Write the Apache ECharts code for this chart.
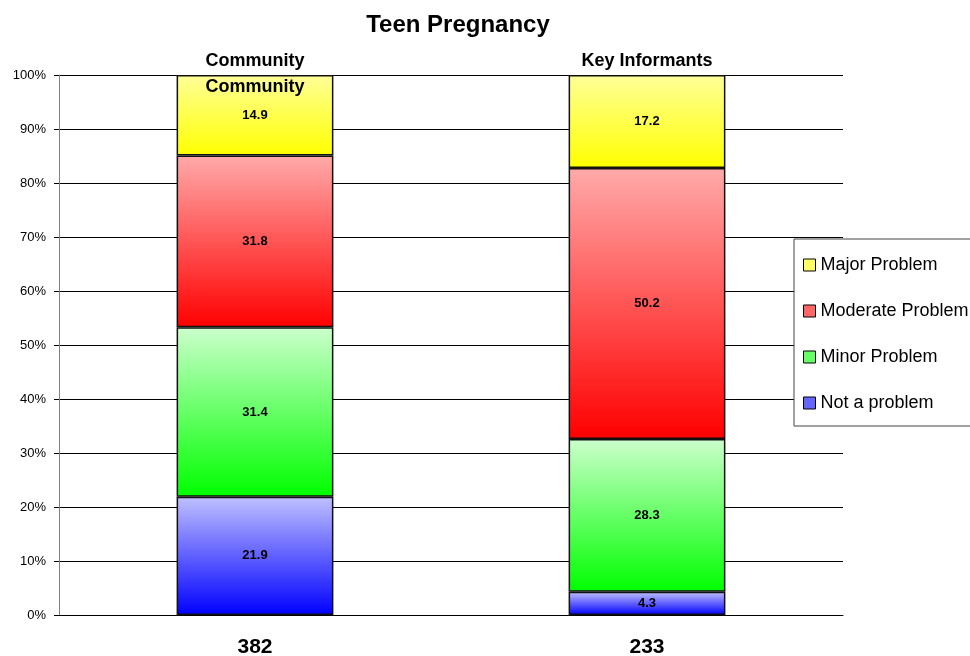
<!DOCTYPE html>
<html>
<head>
<meta charset="utf-8">
<title>Teen Pregnancy</title>
<script src="https://cdn.jsdelivr.net/npm/echarts@6/dist/echarts.min.js"></script>
<style>
  html, body { margin: 0; padding: 0; background: #fff; }
  #chart { width: 970px; height: 656px; }
</style>
</head>
<body>
<div id="chart"></div>
<script>
  // groups and respondents (n)
  var groups = ['Community', 'Key Informants'];
  var sampleSizes = ['382', '233'];
  var innerLabels = ['Community', ''];

  // percentages, bottom of stack first
  var notProblem = [21.9, 4.3];
  var minorProblem = [31.4, 28.3];
  var moderateProblem = [31.8, 50.2];
  var majorProblem = [14.9, 17.2];

  var FONT = 'Liberation Sans, Arial, sans-serif';

  function grad(top, bottom) {
    return {
      type: 'linear', x: 0, y: 0, x2: 0, y2: 1,
      colorStops: [{ offset: 0, color: top }, { offset: 1, color: bottom }]
    };
  }

  function bar(name, data, top, bottom) {
    return {
      name: name,
      type: 'bar',
      stack: 'total',
      barWidth: '40%',
      data: data,
      itemStyle: { color: grad(top, bottom), borderColor: '#111', borderWidth: 1.5 },
      label: {
        show: true,
        position: 'inside',
        color: '#000',
        fontFamily: FONT,
        fontWeight: 'bold',
        fontSize: 13,
        formatter: function (p) { return p.value.toFixed(1); }
      },
      emphasis: { disabled: true }
    };
  }

  var chart = echarts.init(document.getElementById('chart'));
  chart.setOption({
    animation: false,
    backgroundColor: '#fff',
    title: {
      text: 'Teen Pregnancy',
      left: 453,
      textAlign: 'center',
      top: 8,
      textStyle: { fontFamily: FONT, fontWeight: 'bold', fontSize: 24, color: '#000' }
    },
    legend: {
      orient: 'vertical',
      left: 794,
      top: 239,
      padding: [17, 30, 14, 9],
      itemGap: 28,
      itemWidth: 12,
      itemHeight: 12,
      itemTextGap: 3,
      borderColor: '#444',
      borderWidth: 1,
      backgroundColor: '#fff',
      icon: 'rect',
      z: 20,
      textStyle: { fontFamily: FONT, fontSize: 18, color: '#000' },
      data: [
        { name: 'Major Problem', itemStyle: { color: '#ffff66', borderColor: '#000', borderWidth: 1 } },
        { name: 'Moderate Problem', itemStyle: { color: '#ff6666', borderColor: '#000', borderWidth: 1 } },
        { name: 'Minor Problem', itemStyle: { color: '#66ff66', borderColor: '#000', borderWidth: 1 } },
        { name: 'Not a problem', itemStyle: { color: '#6666ff', borderColor: '#000', borderWidth: 1 } }
      ]
    },
    grid: { left: 59, right: 127, top: 75, bottom: 41, outerBoundsMode: 'none' },
    xAxis: [
      {
        type: 'category',
        position: 'bottom',
        data: sampleSizes,
        axisLine: { show: true, lineStyle: { color: '#000' } },
        axisTick: { show: false },
        axisLabel: { margin: 22, fontFamily: FONT, fontWeight: 'bold', fontSize: 21, color: '#000' }
      },
      {
        type: 'category',
        position: 'top',
        data: groups,
        axisLine: { show: false },
        axisTick: { show: false },
        axisLabel: { margin: 5, fontFamily: FONT, fontWeight: 'bold', fontSize: 18, color: '#000' }
      },
      {
        type: 'category',
        position: 'top',
        data: innerLabels,
        axisLine: { show: false },
        axisTick: { show: false },
        axisLabel: { margin: -21, fontFamily: FONT, fontWeight: 'bold', fontSize: 18, color: '#000' },
        z: 10
      }
    ],
    yAxis: {
      type: 'value',
      min: 0,
      max: 100,
      interval: 10,
      axisLine: { show: true, lineStyle: { color: '#808080' } },
      axisTick: { show: true, length: 5, lineStyle: { color: '#000' } },
      axisLabel: { margin: 13, formatter: '{value}%', fontFamily: FONT, fontSize: 13, color: '#000' },
      splitLine: { show: true, lineStyle: { color: '#000', width: 1 } }
    },
    series: [
      bar('Not a problem', notProblem, '#c0c0ff', '#0000ff'),
      bar('Minor Problem', minorProblem, '#ccffcc', '#00ff00'),
      bar('Moderate Problem', moderateProblem, '#ffaaaa', '#ff0000'),
      bar('Major Problem', majorProblem, '#ffff99', '#ffff00')
    ]
  });
</script>
</body>
</html>
